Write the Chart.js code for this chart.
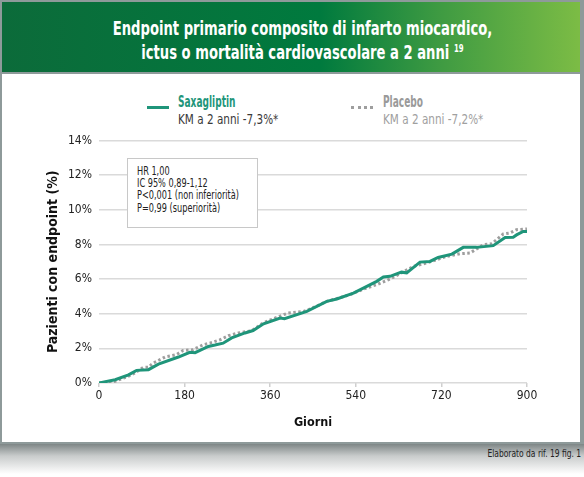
<!DOCTYPE html>
<html>
<head>
<meta charset="utf-8">
<script src="https://cdn.jsdelivr.net/npm/chart.js@4"></script>
<style>
  body { margin: 0; width: 584px; height: 477px; background: #fff; overflow: hidden;
         font-family: 'Liberation Sans Narrow', 'DejaVu Sans Condensed', sans-serif; position: relative; }
  .card { position: absolute; left: 0; top: 0; width: 578px; height: 440px;
          border: 2px solid #8e9a9a; border-right-width: 4px; background: #fff; }
  .head { position: absolute; left: 0; top: 0; width: 578px; height: 70px;
          border-bottom: 2px solid #8e9a9a;
          background: linear-gradient(90deg, #0c6b3a 0%, #007a3e 55%, #3f9b42 76%, #7cbc45 100%); }
  .title { position: absolute; left: 22px; right: 0; top: 13.7px; text-align: center;
           color: #fff; font-weight: bold; font-size: 19px; line-height: 24px; }
  .title span { display: inline-block; transform: scaleX(0.77); transform-origin: center; white-space: nowrap; }
  .title sup { font-size: 10px; vertical-align: 7px; line-height: 0; }
  .shadow { position: absolute; left: 0; top: 444px; width: 584px; height: 30px;
            background: linear-gradient(#7e8686, #c9cccc 40%, #fff); }
  .foot { position: absolute; right: 3px; top: 448.4px; font-size: 10.5px; line-height: 1; color: #222;
          transform: scaleX(0.8); transform-origin: right top; white-space: nowrap; }
  .lg { position: absolute; line-height: 1; white-space: nowrap; transform-origin: left top; }
  .swatch { position: absolute; height: 0; }
  .stat { position: absolute; left: 126.7px; top: 158.3px; width: 120px; height: 62px;
          border: 1px solid #c8c8c8; background: #fff; padding: 5.6px 0 0 9px; }
  .stat div { font-size: 11.5px; line-height: 12.2px; color: #222; white-space: nowrap;
              transform: scaleX(0.79); transform-origin: left center; }
  #wrap { position: absolute; left: 0; top: 0; width: 584px; height: 477px; }
</style>
</head>
<body>
<div class="card">
  <div class="head">
    <div class="title"><span>Endpoint primario composito di infarto miocardico,</span><br><span>ictus o mortalità cardiovascolare a 2 anni <sup>19</sup></span></div>
  </div>
</div>
<div class="shadow"></div>
<div class="foot">Elaborato da rif. 19 fig. 1</div>

<div class="swatch" style="left:147px; top:105.5px; width:22px; border-top:3px solid #1f957a;"></div>
<div class="lg" style="left:178.3px; top:94.6px; font-size:15px; font-weight:bold; color:#1f957a; transform:scaleX(0.67);">Saxagliptin</div>
<div class="lg" style="left:178.3px; top:112.2px; font-size:14px; color:#3a3a3a; transform:scaleX(0.83);">KM a 2 anni -7,3%*</div>
<div class="swatch" style="left:351px; top:105.5px; width:22px; border-top:3px dotted #9e9e9e;"></div>
<div class="lg" style="left:383.3px; top:94.6px; font-size:15px; font-weight:bold; color:#9a9a9a; transform:scaleX(0.67);">Placebo</div>
<div class="lg" style="left:383.3px; top:112.2px; font-size:14px; color:#a0a0a0; transform:scaleX(0.83);">KM a 2 anni -7,2%*</div>

<div id="wrap"><canvas id="kmChart"></canvas></div>

<div class="stat"><div>HR 1,00</div><div>IC 95% 0,89-1,12</div><div>P&lt;0,001 (non inferiorità)</div><div>P=0,99 (superiorità)</div></div>

<script>
var saxaDays = [0, 34, 62, 79, 104, 125, 167, 191, 202, 230, 244, 261, 279, 307, 324, 346, 381, 390, 437, 479, 500, 535, 584, 598, 612, 636, 647, 675, 696, 713, 742, 766, 794, 829, 854, 871, 878, 892, 900];
var saxaValues = [0, 0.19, 0.47, 0.73, 0.77, 1.09, 1.5, 1.77, 1.75, 2.11, 2.19, 2.3, 2.6, 2.89, 3.03, 3.42, 3.75, 3.71, 4.13, 4.71, 4.85, 5.19, 5.87, 6.12, 6.16, 6.4, 6.36, 6.98, 7.02, 7.25, 7.44, 7.83, 7.83, 7.93, 8.4, 8.42, 8.55, 8.75, 8.75];

var placeboDays = [0, 34, 69, 93, 104, 114, 139, 163, 177, 198, 219, 233, 254, 272, 293, 321, 346, 388, 398, 430, 437, 479, 528, 556, 584, 612, 661, 689, 731, 759, 780, 808, 826, 850, 864, 878, 900];
var placeboValues = [0, 0.1, 0.47, 0.9, 0.91, 1.15, 1.5, 1.64, 1.88, 1.92, 2.21, 2.3, 2.49, 2.73, 2.89, 3.02, 3.48, 3.94, 4.04, 4.13, 4.19, 4.71, 5.1, 5.42, 5.68, 6.0, 6.73, 6.93, 7.31, 7.46, 7.5, 7.98, 8.04, 8.6, 8.66, 8.85, 8.89];

var xTicks = [0, 180, 360, 540, 720, 900];
var yTicks = [0, 2, 4, 6, 8, 10, 12, 14];

function toPoints(days, values) {
  return days.map(function (d, i) { return { x: d, y: values[i] }; });
}

Chart.defaults.font.family = "'Liberation Sans Narrow', 'DejaVu Sans Condensed', sans-serif";
Chart.defaults.color = "#222";

new Chart("kmChart", {
  type: "line",
  data: {
    datasets: [{
      label: "Saxagliptin",
      data: toPoints(saxaDays, saxaValues),
      borderColor: "#1f957a",
      borderWidth: 3,
      pointRadius: 0,
      tension: 0
    }, {
      label: "Placebo",
      data: toPoints(placeboDays, placeboValues),
      borderColor: "#9e9e9e",
      borderWidth: 3,
      borderDash: [2.5, 2.5],
      pointRadius: 0,
      tension: 0
    }]
  },
  options: {
    responsive: true,
    maintainAspectRatio: false,
    animation: false,
    layout: { padding: { left: 45, top: 140.5, right: 57, bottom: 47 } },
    plugins: { legend: { display: false }, tooltip: { enabled: false } },
    scales: {
      x: {
        type: "linear",
        min: 0, max: 900,
        afterBuildTicks: function (s) { s.ticks = xTicks.map(function (v) { return { value: v }; }); },
        afterFit: function (s) { s.height = 47; },
        grid: { drawOnChartArea: false, tickLength: 4, color: "#cfcfcf", lineWidth: 1.5 },
        border: { display: false },
        ticks: { padding: 2, font: { size: 12 }, color: "#222" },
        title: { display: true, text: "Giorni", font: { size: 12.5, weight: "bold" }, color: "#111", padding: { top: 0, bottom: 0 } }
      },
      y: {
        min: 0, max: 14,
        afterBuildTicks: function (s) { s.ticks = yTicks.map(function (v) { return { value: v }; }); },
        afterFit: function (s) { s.width = 54; },
        grid: { drawTicks: false, color: "#dadada", lineWidth: 1.5 },
        border: { display: false },
        ticks: { padding: 7, font: { size: 12 }, color: "#222", callback: function (v) { return v + "%"; } },
        title: { display: true, text: "Pazienti con endpoint (%)", font: { size: 14, weight: "bold" }, color: "#111", padding: { top: 0, bottom: 0 } }
      }
    }
  }
});
</script>
</body>
</html>
